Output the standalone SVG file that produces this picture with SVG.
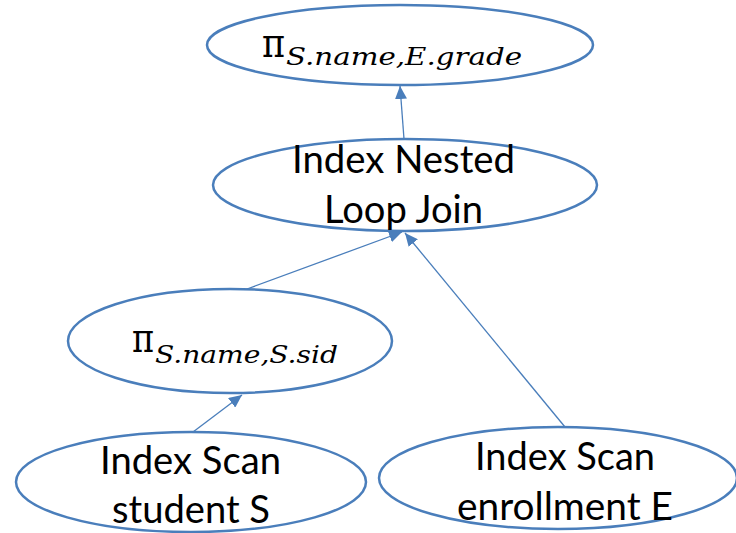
<svg xmlns="http://www.w3.org/2000/svg" width="736" height="533" viewBox="0 0 736 533">
<style>
.node ellipse{fill:#ffffff;stroke:#4a7ebb;stroke-width:2.5}
.lbl{font-family:Lato,"Open Sans","Liberation Sans",sans-serif;font-size:39px;fill:#000;text-anchor:start}
.pi{font-family:"DejaVu Serif","Liberation Serif",serif;font-size:41px;fill:#000}
.sub{font-family:"DejaVu Serif","Liberation Serif",serif;font-style:italic;font-size:25px;fill:#000}
.edge{stroke:#4a7ebb;stroke-width:1.3;fill:none;marker-end:url(#arr)}
</style>
<defs>
<marker id="arr" markerUnits="userSpaceOnUse" markerWidth="14" markerHeight="12" refX="13" refY="6" orient="auto">
<path d="M0,0 L13,6 L0,12 z" fill="#4a7ebb"/>
</marker>
</defs>
<rect width="736" height="533" fill="#ffffff"/>
<g id="n-project-top" class="node">
<ellipse cx="400" cy="45" rx="193" ry="40"/>
<text class="pi" x="262" y="57" textLength="23" lengthAdjust="spacingAndGlyphs">π</text>
<text class="sub" x="286" y="65" textLength="236" lengthAdjust="spacingAndGlyphs">S.name,E.grade</text>
</g>
<g id="n-inlj" class="node">
<ellipse cx="405" cy="185" rx="192" ry="46"/>
<text class="lbl" x="292" y="173" textLength="223" lengthAdjust="spacingAndGlyphs">Index Nested</text>
<text class="lbl" x="324" y="223" textLength="159" lengthAdjust="spacingAndGlyphs">Loop Join</text>
</g>
<g id="n-project-s" class="node">
<ellipse cx="230" cy="341" rx="162" ry="52"/>
<text class="pi" x="132" y="352" textLength="22" lengthAdjust="spacingAndGlyphs">π</text>
<text class="sub" x="155" y="363" textLength="183" lengthAdjust="spacingAndGlyphs">S.name,S.sid</text>
</g>
<g id="n-scan-s" class="node">
<ellipse cx="191" cy="482" rx="175" ry="50"/>
<text class="lbl" x="100" y="474" textLength="181" lengthAdjust="spacingAndGlyphs">Index Scan</text>
<text class="lbl" x="112" y="523" textLength="158" lengthAdjust="spacingAndGlyphs">student S</text>
</g>
<g id="n-scan-e" class="node">
<ellipse cx="558" cy="478" rx="179" ry="51"/>
<text class="lbl" x="475" y="470" textLength="180" lengthAdjust="spacingAndGlyphs">Index Scan</text>
<text class="lbl" x="457" y="520" textLength="216" lengthAdjust="spacingAndGlyphs">enrollment E</text>
</g>
<g id="connectors">
<line class="edge" x1="404" y1="139" x2="400" y2="86"/>
<line class="edge" x1="247" y1="289" x2="402" y2="232"/>
<line class="edge" x1="565" y1="427" x2="405" y2="233"/>
<line class="edge" x1="193" y1="432" x2="242" y2="395"/>
</g>
</svg>
